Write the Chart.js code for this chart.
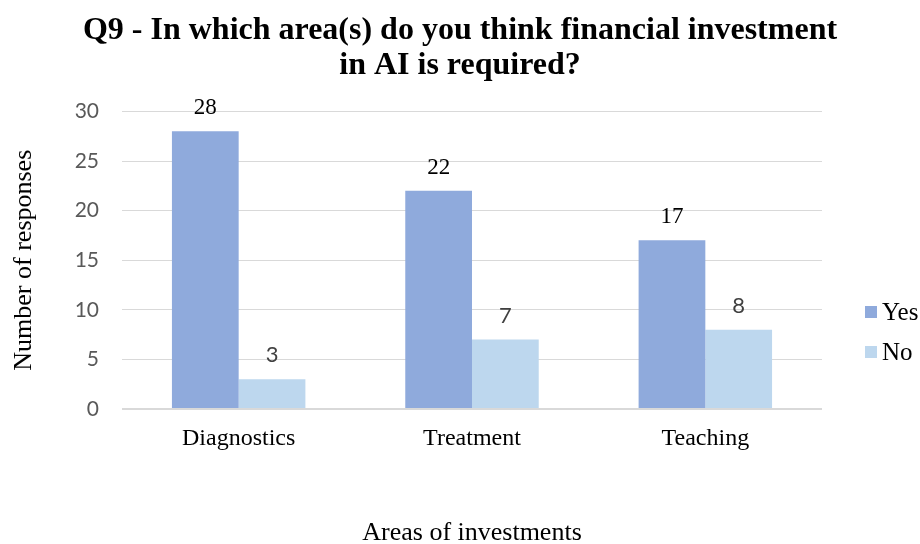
<!DOCTYPE html>
<html>
<head>
<meta charset="utf-8">
<script src="https://cdn.jsdelivr.net/npm/chart.js@4"></script>
<style>
  html, body { margin: 0; padding: 0; background: #fff; }
  #wrap { width: 920px; height: 544px; }
</style>
</head>
<body>
<div id="wrap"><canvas id="chart" width="920" height="544"></canvas></div>
<script>
const categories = ['Diagnostics', 'Treatment', 'Teaching']
const yesValues = [28, 22, 17]
const noValues = [3, 7, 8]
const seriesNames = ['Yes', 'No']
const seriesColors = ['#8FAADC', '#BDD7EE']

const serif = '"Liberation Serif", "Times New Roman", serif'
const sans = 'Lato, "Liberation Sans", sans-serif'

// value labels above bars: Yes in serif black, No in sans gray (as in the original)
const barLabels = {
  id: 'barLabels',
  afterDatasetsDraw(chart) {
    const ctx = chart.ctx
    chart.data.datasets.forEach((ds, di) => {
      const meta = chart.getDatasetMeta(di)
      ctx.save()
      ctx.textAlign = 'center'
      ctx.textBaseline = 'alphabetic'
      if (di === 0) {
        ctx.font = '23px ' + serif
        ctx.fillStyle = '#000'
      } else {
        ctx.font = '22px ' + sans
        ctx.fillStyle = '#404040'
      }
      meta.data.forEach((bar, i) => {
        ctx.fillText(String(ds.data[i]), bar.x, bar.y - 17)
      })
      ctx.restore()
    })
  },
}

// legend on the right, lower than centre like the original
const sideLegend = {
  id: 'sideLegend',
  afterDraw(chart) {
    const ctx = chart.ctx
    ctx.save()
    ctx.font = '25px ' + serif
    ctx.textBaseline = 'middle'
    chart.data.datasets.forEach((ds, i) => {
      const y = 312 + i * 40
      ctx.fillStyle = ds.backgroundColor
      ctx.fillRect(865, y - 6, 12, 12)
      ctx.fillStyle = '#000'
      ctx.fillText(ds.label, 882, y + 1)
    })
    ctx.restore()
  },
}

new Chart(document.getElementById('chart'), {
  type: 'bar',
  data: {
    labels: categories,
    datasets: [
      { label: seriesNames[0], data: yesValues, backgroundColor: seriesColors[0] },
      { label: seriesNames[1], data: noValues, backgroundColor: seriesColors[1] },
    ],
  },
  options: {
    responsive: false,
    animation: false,
    layout: { padding: 0 },
    datasets: {
      bar: { categoryPercentage: 0.572, barPercentage: 1.0 },
    },
    plugins: {
      legend: { display: false },
      tooltip: { enabled: false },
      title: {
        display: true,
        text: ['Q9 - In which area(s) do you think financial investment', 'in AI is required?'],
        color: '#000',
        font: { family: serif, size: 32, weight: 'bold', lineHeight: 1.1 },
        padding: { top: 13, bottom: 28 },
      },
    },
    scales: {
      x: {
        grid: { display: false, drawTicks: false },
        border: { display: false },
        ticks: { color: '#000', font: { family: serif, size: 24 }, padding: 15 },
        title: {
          display: true,
          text: 'Areas of investments',
          color: '#000',
          font: { family: serif, size: 26, lineHeight: 0.85 },
          padding: { top: 60, bottom: 0 },
        },
        afterFit(scale) { scale.height = 135 },
      },
      y: {
        min: 0,
        max: 30,
        ticks: { stepSize: 5, color: '#595959', font: { family: sans, size: 21 }, padding: 23 },
        grid: {
          color: '#D9D9D9',
          lineWidth: (c) => (c.tick && c.tick.value === 0 ? 2 : 1),
          drawTicks: false,
        },
        border: { display: false },
        title: {
          display: true,
          text: 'Number of responses',
          color: '#000',
          font: { family: serif, size: 26 },
          padding: { top: 9, bottom: 0 },
        },
        afterFit(scale) { scale.width = 122 },
      },
      // empty right-hand axis that reserves room for the legend
      yRight: {
        position: 'right',
        display: true,
        grid: { display: false, drawTicks: false },
        border: { display: false },
        ticks: { display: false },
        afterFit(scale) { scale.width = 98 },
      },
    },
  },
  plugins: [barLabels, sideLegend],
})
</script>
</body>
</html>
